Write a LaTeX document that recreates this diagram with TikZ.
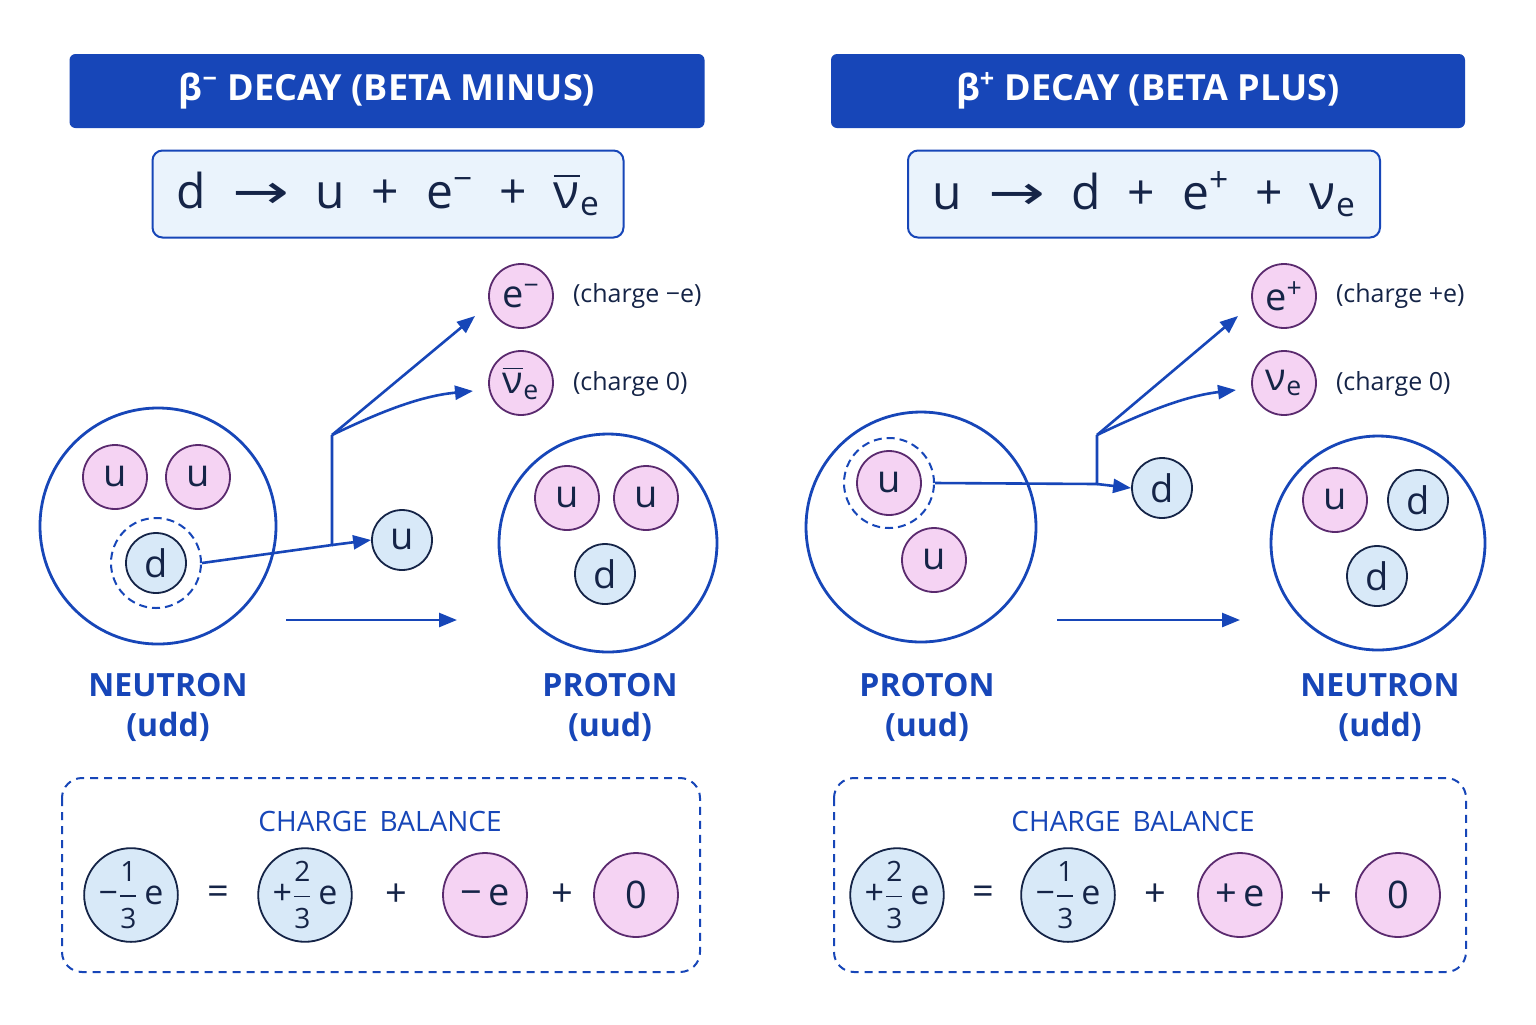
\documentclass[tikz,border=0pt]{standalone}
\usepackage{amsmath}
\usepackage{fontspec}
\setmainfont{Open Sans}
\newfontfamily\dvf{DejaVu Sans}
\usetikzlibrary{arrows.meta}
\definecolor{bl}{HTML}{1746B8}
\definecolor{ink}{HTML}{152447}
\definecolor{pk}{HTML}{F5D3F3}
\definecolor{pkb}{HTML}{5A2A6E}
\definecolor{lb}{HTML}{D8E9F8}
\definecolor{eqf}{HTML}{EAF3FC}
\tikzset{
 x=0.5pt,y=-0.5pt,
 title/.style={fill=bl,rounded corners=3pt,text=white,font=\bfseries\fontsize{18}{20}\selectfont},
 eqbox/.style={fill=eqf,draw=bl,line width=1pt,rounded corners=5pt,text=ink,font=\fontsize{24}{26}\selectfont},
 bigc/.style={circle,draw=bl,line width=1.4pt,fill=white},
 pq/.style={circle,draw=pkb,line width=0.9pt,fill=pk,minimum size=32pt,inner sep=0pt,text=ink,font=\fontsize{19}{20}\selectfont},
 bq/.style={circle,draw=ink,line width=0.9pt,fill=lb,minimum size=30pt,inner sep=0pt,text=ink,font=\fontsize{19}{20}\selectfont},
 ring/.style={circle,draw=bl,line width=1pt,dash pattern=on 4pt off 2.5pt,minimum size=45pt,inner sep=0pt},
 arr/.style={draw=bl,line width=1.3pt,-{Triangle[length=9pt,width=7pt]}},
 lab/.style={text=bl,font=\bfseries\fontsize{16}{20}\selectfont,align=center},
 chg/.style={text=ink,font=\fontsize{12.5}{14}\selectfont,anchor=west},
 cbox/.style={draw=bl,line width=1pt,dash pattern=on 4pt off 3pt,rounded corners=10pt},
 cbt/.style={text=bl,font=\fontsize{14}{16}\selectfont},
 fb/.style={circle,draw=ink,line width=0.9pt,fill=lb,minimum size=45pt,inner sep=0pt,text=ink,font=\fontsize{17}{18}\selectfont},
 fp/.style={circle,draw=pkb,line width=0.9pt,fill=pk,minimum size=42pt,inner sep=0pt,text=ink,font=\fontsize{19}{20}\selectfont},
 op/.style={text=ink,font=\fontsize{19}{20}\selectfont},
}
\newcommand{\nub}{\ensuremath{\overline{\mbox{ν}}}}
\newcommand{\rarr}{\scalebox{1.7}[1.2]{\dvf\fontsize{20}{20}\selectfont →}}
\newcommand{\fr}[2]{\ensuremath{\genfrac{}{}{0.6pt}{0}{\mbox{\fontsize{14}{14}\selectfont #1}}{\mbox{\fontsize{14}{14}\selectfont #2}}}}
\begin{document}
\begin{tikzpicture}
\useasboundingbox[fill=white] (0,0) rectangle (1536,1024);
% ---------- LEFT ----------
\node[title,minimum width=317.5pt,minimum height=37pt] (t1) at (387,91) {β\textsuperscript{−} DECAY (BETA MINUS)};
\node[eqbox,minimum width=235.5pt,minimum height=43.5pt] (e1) at (388,194) {d\;\;\rarr\;\;u\;\;+\;\;e\textsuperscript{−}\;\;+\;\;\nub\textsubscript{e}};
\node[bigc,minimum size=118pt] (n1) at (158,526) {};
\node[pq] (q1) at (115,477) {u};
\node[pq] (q2) at (198,477) {u};
\node[ring] (r1) at (156,563) {};
\node[bq] (q3) at (156,563) {d};
\node[bq] (fu) at (402,540) {u};
\coordinate (b1) at (332,545);
\coordinate (b1t) at (332,435);
\node[pq] (el) at (521,296) {e\textsuperscript{−}};
\node[pq] (nl) at (521,383) {\nub\textsubscript{e}};
\node[chg] at (566,296) {(charge −e)};
\node[chg] at (566,384) {(charge 0)};
\draw[bl,line width=1.3pt] (r1.east) -- (b1) -- (b1t);
\draw[arr] (b1) -- (fu.west);
\draw[arr] (b1t) -- (475,316);
\draw[arr] (b1t) .. controls (380,412) and (420,396) .. (473,391);
\node[bigc,minimum size=109pt] (p1) at (608,543) {};
\node[pq] (q4) at (567,498) {u};
\node[pq] (q5) at (646,498) {u};
\node[bq] (q6) at (605,574) {d};
\coordinate (a1s) at (286,620); \coordinate (a1e) at (457,620);
\draw[arr] (a1s) -- (a1e);
\node[lab] at (168,707) {NEUTRON\\(udd)};
\node[lab] at (610,707) {PROTON\\(uud)};
\draw[cbox] (62,778) rectangle (700,972);
\node[cbt] at (380,821) {CHARGE\, BALANCE};
\node[fb] at (131,895) {−\fr13\,e};
\node[op] at (218,895) {=};
\node[fb] at (305,895) {+\fr23\,e};
\node[op] at (396,895) {+};
\node[fp] at (485,895) {−\,e};
\node[op] at (562,895) {+};
\node[fp] at (636,895) {0};
% ---------- RIGHT ----------
\node[title,minimum width=317pt,minimum height=37pt] (t2) at (1148,91) {β\textsuperscript{+} DECAY (BETA PLUS)};
\node[eqbox,minimum width=236pt,minimum height=43.5pt] (e2) at (1144,194) {u\;\;\rarr\;\;d\;\;+\;\;e\textsuperscript{+}\;\;+\;\;ν\textsubscript{e}};
\node[bigc,minimum size=115pt] (n2) at (921,527) {};
\node[ring] (r2) at (889,483) {};
\node[pq] (q7) at (889,483) {u};
\node[pq] (q8) at (934,560) {u};
\node[bq] (fd) at (1162,488) {d};
\coordinate (b2) at (1097,484);
\coordinate (b2t) at (1097,435);
\node[pq] (er) at (1284,296) {e\textsuperscript{+}};
\node[pq] (nr) at (1284,383) {ν\textsubscript{e}};
\node[chg] at (1329,296) {(charge +e)};
\node[chg] at (1329,384) {(charge 0)};
\draw[bl,line width=1.3pt] (r2.east) -- (b2) -- (b2t);
\draw[arr] (b2) -- (fd.west);
\draw[arr] (b2t) -- (1238,316);
\draw[arr] (b2t) .. controls (1145,412) and (1185,396) .. (1236,390);
\node[bigc,minimum size=107pt] (p2) at (1378,543) {};
\node[pq] (q9) at (1335,500) {u};
\node[bq] (q10) at (1418,500) {d};
\node[bq] (q11) at (1377,576) {d};
\coordinate (a2s) at (1057,620); \coordinate (a2e) at (1240,620);
\draw[arr] (a2s) -- (a2e);
\node[lab] at (927,707) {PROTON\\(uud)};
\node[lab] at (1380,707) {NEUTRON\\(udd)};
\draw[cbox] (834,778) rectangle (1466,972);
\node[cbt] at (1133,821) {CHARGE\, BALANCE};
\node[fb] at (897,895) {+\fr23\,e};
\node[op] at (983,895) {=};
\node[fb] at (1068,895) {−\fr13\,e};
\node[op] at (1155,895) {+};
\node[fp] at (1240,895) {+\,e};
\node[op] at (1321,895) {+};
\node[fp] at (1398,895) {0};
\end{tikzpicture}
\end{document}
